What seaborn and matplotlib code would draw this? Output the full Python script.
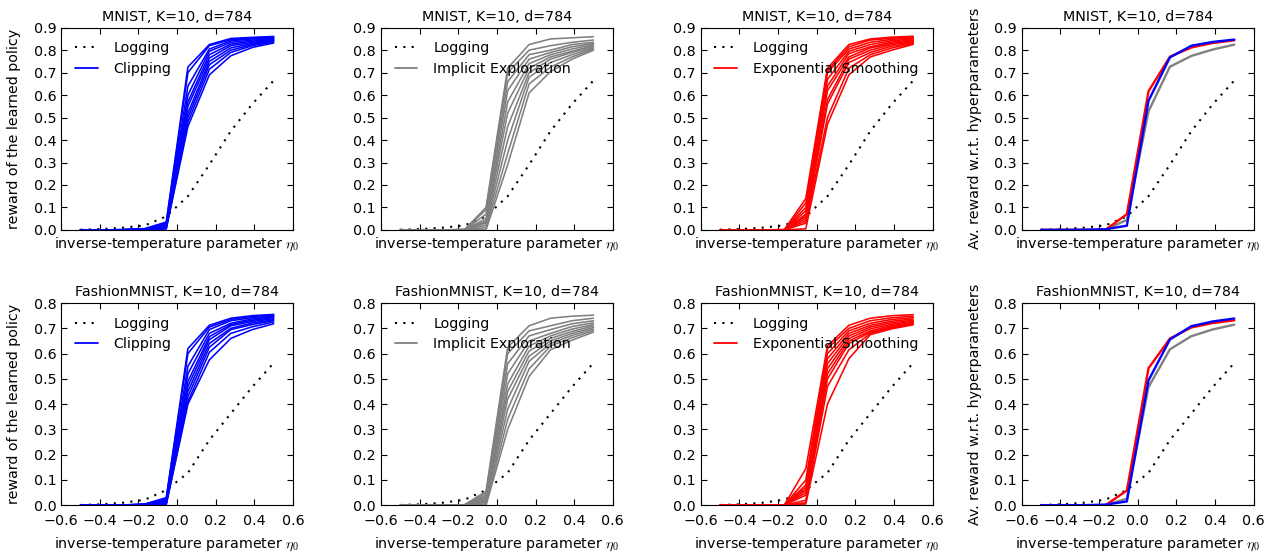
import numpy as np
import pandas as pd
import matplotlib
matplotlib.use("Agg")
import matplotlib.pyplot as plt
import seaborn as sns
from matplotlib.lines import Line2D

# x grid (inverse-temperature eta_0)
eta = [-0.5, -0.389, -0.278, -0.167, -0.056, 0.056, 0.167, 0.278, 0.389, 0.5]

mnist_logging = [0.001, 0.004, 0.010, 0.020, 0.060, 0.150, 0.290, 0.440, 0.560, 0.665]
fmnist_logging = [0.001, 0.004, 0.010, 0.022, 0.060, 0.128, 0.258, 0.363, 0.468, 0.563]

# each row: values of the 10 hyperparameter curves at one eta
mnist_clipping = [
    [0.0, 0.0, 0.0, 0.0, 0.0, 0.0, 0.0, 0.0, 0.0, 0.0],
    [0.0, 0.0, 0.0, 0.0, 0.0, 0.0, 0.0, 0.0, 0.0, 0.0],
    [0.001, 0.001, 0.001, 0.001, 0.001, 0.0, 0.0, 0.0, 0.0, 0.0],
    [0.006, 0.005, 0.004, 0.003, 0.003, 0.002, 0.002, 0.001, 0.001, 0.0],
    [0.035, 0.030, 0.027, 0.023, 0.020, 0.017, 0.014, 0.010, 0.007, 0.004],
    [0.725, 0.700, 0.640, 0.600, 0.570, 0.550, 0.520, 0.500, 0.480, 0.460],
    [0.825, 0.820, 0.805, 0.795, 0.780, 0.765, 0.750, 0.735, 0.715, 0.690],
    [0.852, 0.847, 0.842, 0.835, 0.827, 0.820, 0.810, 0.800, 0.790, 0.775],
    [0.857, 0.854, 0.850, 0.845, 0.840, 0.835, 0.830, 0.825, 0.820, 0.812],
    [0.861, 0.858, 0.855, 0.852, 0.849, 0.846, 0.843, 0.840, 0.836, 0.832],
]
mnist_implicit = [
    [0.0, 0.0, 0.0, 0.0, 0.0, 0.0, 0.0, 0.0, 0.0, 0.0],
    [0.0, 0.0, 0.0, 0.0, 0.0, 0.0, 0.0, 0.0, 0.0, 0.0],
    [0.0, 0.0, 0.0, 0.0, 0.0, 0.0, 0.0, 0.0, 0.0, 0.0],
    [0.002, 0.002, 0.001, 0.001, 0.001, 0.001, 0.0, 0.0, 0.0, 0.0],
    [0.100, 0.090, 0.070, 0.050, 0.040, 0.035, 0.030, 0.020, 0.010, 0.0],
    [0.720, 0.700, 0.660, 0.620, 0.570, 0.520, 0.460, 0.400, 0.340, 0.290],
    [0.825, 0.800, 0.780, 0.760, 0.740, 0.720, 0.700, 0.680, 0.650, 0.610],
    [0.850, 0.820, 0.800, 0.790, 0.780, 0.770, 0.760, 0.745, 0.725, 0.705],
    [0.855, 0.835, 0.825, 0.815, 0.805, 0.795, 0.790, 0.780, 0.770, 0.760],
    [0.860, 0.845, 0.835, 0.830, 0.825, 0.820, 0.815, 0.810, 0.805, 0.800],
]
mnist_smoothing = [
    [0.0, 0.0, 0.0, 0.0, 0.0, 0.0, 0.0, 0.0, 0.0, 0.0],
    [0.0, 0.0, 0.0, 0.0, 0.0, 0.0, 0.0, 0.0, 0.0, 0.0],
    [0.0, 0.0, 0.0, 0.0, 0.0, 0.0, 0.0, 0.0, 0.0, 0.0],
    [0.001, 0.001, 0.001, 0.001, 0.0, 0.0, 0.0, 0.0, 0.0, 0.0],
    [0.140, 0.120, 0.100, 0.085, 0.070, 0.060, 0.050, 0.040, 0.030, 0.005],
    [0.720, 0.710, 0.700, 0.670, 0.640, 0.620, 0.580, 0.560, 0.500, 0.470],
    [0.825, 0.815, 0.805, 0.795, 0.785, 0.770, 0.760, 0.745, 0.720, 0.690],
    [0.850, 0.845, 0.835, 0.825, 0.815, 0.810, 0.800, 0.790, 0.780, 0.770],
    [0.858, 0.853, 0.848, 0.842, 0.836, 0.830, 0.825, 0.818, 0.810, 0.800],
    [0.862, 0.858, 0.854, 0.850, 0.846, 0.842, 0.838, 0.834, 0.830, 0.826],
]
fmnist_clipping = [
    [0.0, 0.0, 0.0, 0.0, 0.0, 0.0, 0.0, 0.0, 0.0, 0.0],
    [0.0, 0.0, 0.0, 0.0, 0.0, 0.0, 0.0, 0.0, 0.0, 0.0],
    [0.001, 0.001, 0.001, 0.001, 0.0, 0.0, 0.0, 0.0, 0.0, 0.0],
    [0.005, 0.004, 0.004, 0.003, 0.003, 0.002, 0.002, 0.001, 0.001, 0.0],
    [0.030, 0.027, 0.022, 0.018, 0.015, 0.012, 0.010, 0.008, 0.005, 0.003],
    [0.620, 0.600, 0.550, 0.520, 0.490, 0.470, 0.450, 0.430, 0.410, 0.400],
    [0.712, 0.705, 0.695, 0.680, 0.667, 0.655, 0.640, 0.625, 0.605, 0.575],
    [0.740, 0.735, 0.730, 0.720, 0.715, 0.710, 0.700, 0.695, 0.680, 0.660],
    [0.750, 0.747, 0.742, 0.737, 0.732, 0.727, 0.721, 0.715, 0.706, 0.695],
    [0.755, 0.752, 0.749, 0.746, 0.742, 0.738, 0.734, 0.730, 0.725, 0.718],
]
fmnist_implicit = [
    [0.0, 0.0, 0.0, 0.0, 0.0, 0.0, 0.0, 0.0, 0.0, 0.0],
    [0.0, 0.0, 0.0, 0.0, 0.0, 0.0, 0.0, 0.0, 0.0, 0.0],
    [0.0, 0.0, 0.0, 0.0, 0.0, 0.0, 0.0, 0.0, 0.0, 0.0],
    [0.002, 0.002, 0.001, 0.001, 0.001, 0.0, 0.0, 0.0, 0.0, 0.0],
    [0.055, 0.048, 0.040, 0.033, 0.027, 0.022, 0.017, 0.012, 0.006, 0.0],
    [0.625, 0.600, 0.560, 0.520, 0.480, 0.450, 0.420, 0.380, 0.340, 0.300],
    [0.710, 0.690, 0.670, 0.650, 0.630, 0.610, 0.590, 0.570, 0.540, 0.510],
    [0.740, 0.710, 0.695, 0.680, 0.670, 0.660, 0.650, 0.640, 0.630, 0.615],
    [0.748, 0.730, 0.718, 0.707, 0.697, 0.688, 0.680, 0.672, 0.663, 0.653],
    [0.752, 0.740, 0.730, 0.722, 0.715, 0.709, 0.703, 0.697, 0.691, 0.685],
]
fmnist_smoothing = [
    [0.0, 0.0, 0.0, 0.0, 0.0, 0.0, 0.0, 0.0, 0.0, 0.0],
    [0.0, 0.0, 0.0, 0.0, 0.0, 0.0, 0.0, 0.0, 0.0, 0.0],
    [0.0, 0.0, 0.0, 0.0, 0.0, 0.0, 0.0, 0.0, 0.0, 0.0],
    [0.001, 0.001, 0.001, 0.0, 0.0, 0.0, 0.0, 0.0, 0.0, 0.0],
    [0.145, 0.100, 0.080, 0.070, 0.060, 0.050, 0.040, 0.020, 0.010, 0.005],
    [0.630, 0.620, 0.600, 0.580, 0.560, 0.540, 0.520, 0.500, 0.470, 0.400],
    [0.712, 0.700, 0.690, 0.680, 0.670, 0.660, 0.650, 0.640, 0.615, 0.580],
    [0.740, 0.730, 0.720, 0.712, 0.705, 0.698, 0.690, 0.685, 0.680, 0.675],
    [0.750, 0.742, 0.735, 0.728, 0.722, 0.716, 0.711, 0.706, 0.702, 0.698],
    [0.754, 0.748, 0.742, 0.737, 0.732, 0.728, 0.724, 0.720, 0.717, 0.714],
]

methods = ["Clipping", "Implicit Exploration", "Exponential Smoothing"]
colors = {"Clipping": "#0000ff", "Implicit Exploration": "#808080",
          "Exponential Smoothing": "#ff0000"}
datasets = ["MNIST", "FashionMNIST"]
ymax = {"MNIST": 0.9, "FashionMNIST": 0.8}
logging = {"MNIST": mnist_logging, "FashionMNIST": fmnist_logging}
curves = {
    ("MNIST", "Clipping"): mnist_clipping,
    ("MNIST", "Implicit Exploration"): mnist_implicit,
    ("MNIST", "Exponential Smoothing"): mnist_smoothing,
    ("FashionMNIST", "Clipping"): fmnist_clipping,
    ("FashionMNIST", "Implicit Exploration"): fmnist_implicit,
    ("FashionMNIST", "Exponential Smoothing"): fmnist_smoothing,
}

rows = []
for (ds, m), table in curves.items():
    arr = np.array(table)
    for i, x in enumerate(eta):
        for h in range(arr.shape[1]):
            rows.append((ds, m, h, x, arr[i, h]))
df = pd.DataFrame(rows, columns=["dataset", "method", "hp", "eta", "reward"])

sns.set_style("ticks", rc={
    "xtick.direction": "in", "ytick.direction": "in",
    "xtick.top": True, "ytick.right": True,
    "axes.edgecolor": "black", "axes.linewidth": 1.0,
    "text.color": "black", "axes.labelcolor": "black",
    "xtick.color": "black", "ytick.color": "black",
})
plt.rcParams["font.family"] = ["DejaVu Sans"]
plt.rcParams["mathtext.fontset"] = "cm"
plt.rcParams["axes.unicode_minus"] = True
fs = 10.3

fig = plt.figure(figsize=(12.74, 5.54), dpi=100)
lefts = [0.048, 0.299, 0.550, 0.802]
bottoms = {"MNIST": 0.585, "FashionMNIST": 0.088}
w, h = 0.182, 0.365
dotted = (0, (1, 3))

for ds in datasets:
    for col in range(4):
        ax = fig.add_axes([lefts[col], bottoms[ds], w, h])
        sns.lineplot(x=eta, y=logging[ds], color="black", linestyle=dotted,
                     lw=1.5, ax=ax)
        if col < 3:
            m = methods[col]
            sub = df[(df.dataset == ds) & (df.method == m)]
            sns.lineplot(data=sub, x="eta", y="reward", units="hp",
                         estimator=None, color=colors[m], lw=1.15, ax=ax,
                         legend=False)
            handles = [Line2D([], [], color="black", linestyle=dotted, lw=1.5),
                       Line2D([], [], color=colors[m], lw=1.3)]
            ax.legend(handles, ["Logging", m], loc="upper left", frameon=False,
                      fontsize=fs, handlelength=1.6, handletextpad=1.1,
                      labelspacing=0.45, borderaxespad=0.55)
        else:
            for m in ["Implicit Exploration", "Exponential Smoothing", "Clipping"]:
                sub = df[(df.dataset == ds) & (df.method == m)]
                sns.lineplot(data=sub, x="eta", y="reward", estimator="mean",
                             errorbar=None, color=colors[m], lw=1.7, ax=ax)
        ax.set_xlim(-0.6, 0.6)
        ax.set_ylim(0, ymax[ds])
        ax.set_xticks(np.arange(-0.6, 0.61, 0.2))
        ax.set_yticks(np.arange(0, ymax[ds] + 0.01, 0.1))
        ax.yaxis.set_major_formatter(plt.FormatStrFormatter("%.1f"))
        ax.tick_params(direction="in", top=True, right=True, length=4,
                       width=0.8, labelsize=fs)
        ax.tick_params(axis="x", pad=6)
        if ds == "MNIST":
            ax.tick_params(labelbottom=False)
        ax.set_title(f"{ds}, K=10, d=784", fontsize=fs, pad=5)
        ax.set_xlabel(r"inverse-temperature parameter $\eta_0$", fontsize=fs,
                      labelpad=6 if ds == "FashionMNIST" else 4)
        if col == 0:
            ax.set_ylabel("reward of the learned policy", fontsize=fs,
                          labelpad=9)
        elif col == 3:
            ax.set_ylabel("Av. reward w.r.t. hyperparameters", fontsize=fs,
                          labelpad=9)
        else:
            ax.set_ylabel("")
        for s in ax.spines.values():
            s.set_visible(True)

fig.savefig("out.png", dpi=100)
